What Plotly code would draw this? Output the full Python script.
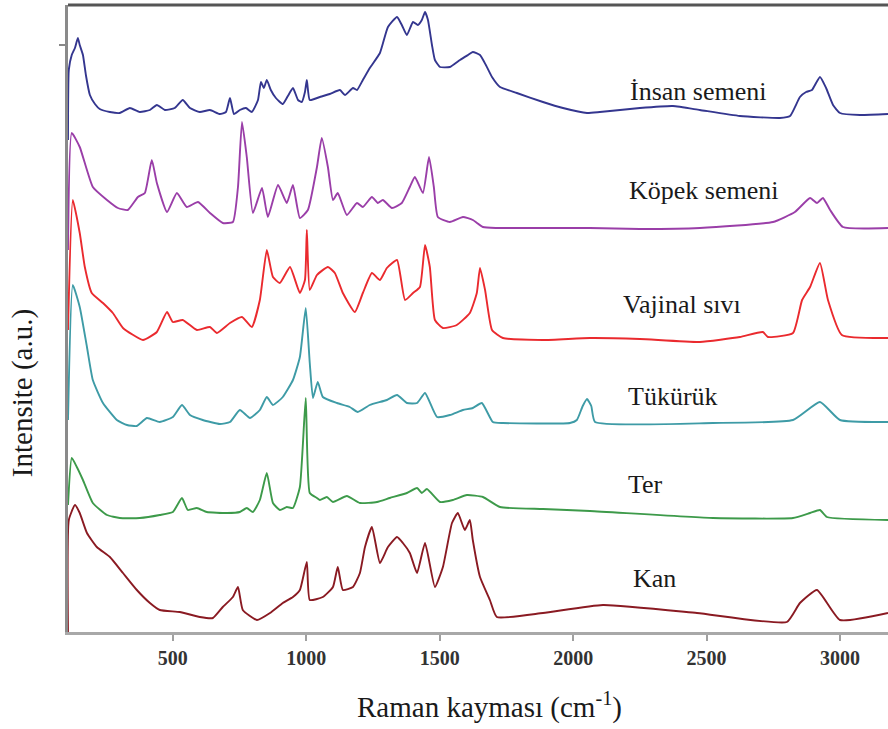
import plotly.graph_objects as go

# Raman shift (cm-1) and stacked intensity (a.u.) for each body fluid
insan_x = [107, 110, 121, 133, 144, 151, 163, 174, 189, 208, 226, 264, 301, 339, 376, 414, 440, 470, 507, 537,
           564, 601, 639, 676, 699, 714, 729, 751, 774, 796, 819, 830, 841, 852, 867, 886, 912, 931, 950, 969,
           983, 995, 1002, 1013, 1051, 1088, 1126, 1145, 1175, 1190, 1212, 1238, 1276, 1306, 1340, 1358, 1377,
           1400, 1418, 1433, 1445, 1456, 1471, 1482, 1501, 1538, 1576, 1606, 1624, 1651, 1673, 1696, 1726, 1789,
           1887, 1962, 2052, 2100, 2250, 2374, 2475, 2625, 2775, 2813, 2850, 2873, 2895, 2925, 2948, 2974, 3000,
           3075, 3180]
insan_y = [492, 562, 577, 584, 594, 587, 577, 557, 537, 528, 523, 520, 519, 524, 520, 522, 527, 522, 524, 532,
           524, 520, 522, 518, 520, 534, 518, 522, 524, 520, 532, 550, 544, 552, 542, 534, 528, 536, 544, 532,
           530, 540, 552, 532, 535, 538, 542, 537, 544, 542, 552, 564, 579, 605, 615, 607, 597,
           610, 607, 612, 620, 612, 587, 572, 565, 565, 572, 577, 580, 577, 567, 555, 545, 539,
           530, 524, 519, 520, 524, 526, 522, 516, 514, 516, 535, 540, 542, 555, 544, 527, 519,
           517, 518]

kopek_x = [107, 121, 151, 200, 253, 294, 331, 369, 395, 421, 440, 478, 515, 552, 594, 639, 687, 725, 744, 759,
           777, 800, 834, 856, 894, 927, 950, 976, 1006, 1040, 1058, 1081, 1100, 1118, 1152, 1190, 1212, 1246,
           1268, 1287, 1321, 1358, 1388, 1407, 1437, 1460, 1478, 1493, 1538, 1587, 1624, 1662, 1714, 1887, 2063,
           2250, 2475, 2749, 2831, 2888, 2914, 2936, 2963, 3011, 3180]
kopek_y = [382, 499, 485, 445, 432, 424, 422, 435, 439, 472, 449, 420, 439, 425, 430, 419, 409, 410, 445, 510,
           475, 419, 444, 415, 447, 429, 447, 414, 422, 465, 494, 465, 432, 439, 417, 429, 425, 435,
           429, 432, 424, 429, 445, 455, 439, 475, 445, 415, 410, 415, 412, 405, 404, 404, 404,
           403, 404, 410, 420, 434, 429, 434, 422, 405, 404]

vajinal_x = [107, 125, 151, 170, 196, 238, 275, 313, 388, 440, 478, 500, 537, 590, 639, 665, 714, 759, 796, 826,
             852, 875, 901, 939, 976, 995, 1002, 1013, 1040, 1081, 1107, 1137, 1182, 1212, 1246, 1276, 1302,
             1340, 1370, 1400, 1426, 1445, 1463, 1482, 1512, 1564, 1613, 1639, 1651, 1670, 1696, 1737, 1887,
             2063, 2250, 2475, 2625, 2711, 2730, 2824, 2858, 2888, 2925, 2955, 3007, 3180]
vajinal_y = [302, 432, 399, 365, 339, 329, 319, 304, 292, 300, 320, 310, 312, 302, 305, 299, 309, 315, 305, 332,
             382, 355, 349, 365, 339, 352, 402, 342, 357, 365, 359, 339, 320, 339, 359, 352, 364,
             372, 332, 339, 345, 387, 365, 312, 304, 307, 319, 339, 364, 342, 302, 294, 292,
             294, 293, 290, 295, 300, 295, 299, 332, 345, 369, 332, 297, 294]

tukuruk_x = [107, 125, 151, 178, 200, 238, 290, 328, 365, 403, 451, 500, 534, 564, 612, 676, 714, 751, 789, 826,
             852, 875, 912, 950, 976, 998, 1013, 1025, 1043, 1062, 1115, 1163, 1193, 1238, 1302, 1340, 1377,
             1415, 1445, 1490, 1538, 1587, 1624, 1658, 1699, 1737, 1988, 2014, 2036, 2052, 2068, 2082, 2524,
             2824, 2925, 3000, 3180]
tukuruk_y = [212, 347, 325, 285, 252, 229, 212, 207, 206, 214, 210, 215, 227, 217, 212, 208, 210, 222, 214, 222,
             235, 227, 235, 252, 275, 324, 269, 234, 250, 235, 229, 225, 220, 227, 232, 237, 229,
             229, 239, 215, 217, 222, 224, 229, 210, 209, 209, 212, 226, 233, 226, 210, 209,
             212, 230, 212, 210]

ter_x = [107, 121, 140, 163, 200, 253, 301, 376, 451, 500, 534, 556, 590, 627, 702, 751, 777, 800, 826, 852,
         875, 901, 927, 950, 976, 998, 1013, 1040, 1051, 1077, 1100, 1152, 1201, 1265, 1313, 1377, 1415, 1433,
         1452, 1501, 1549, 1602, 1662, 1726, 1887, 2063, 2524, 2824, 2888, 2925, 2951, 3180]
ter_y = [127, 174, 165, 152, 129, 117, 114, 114, 117, 120, 134, 122, 124, 120, 119, 120, 124, 120, 132, 159,
         129, 122, 125, 124, 145, 234, 139, 134, 132, 135, 130, 136, 129, 130, 134, 139, 144, 139,
         143, 130, 132, 137, 135, 125, 123, 121, 114, 114, 119, 122, 115, 112]

kan_x = [107, 110, 133, 151, 178, 215, 264, 313, 365, 414, 451, 526, 601, 650, 687, 725, 744, 762, 815, 864,
         912, 950, 976, 1002, 1013, 1062, 1100, 1118, 1137, 1175, 1201, 1220, 1246, 1276, 1306, 1340, 1362,
         1388, 1415, 1445, 1482, 1512, 1546, 1568, 1594, 1613, 1624, 1651, 1688, 1714, 1887, 2112, 2464, 2801,
         2850, 2914, 3000, 3180]
kan_y = [0, 112, 127, 119, 99, 85, 75, 59, 42, 29, 22, 20, 15, 14, 25, 35, 45, 22, 12, 19,
         29, 35, 42, 70, 32, 35, 45, 65, 42, 45, 59, 85, 105, 69, 85, 95, 89,
         79, 59, 89, 45, 65, 109, 119, 102, 112, 92, 55, 32, 15, 19, 27, 19, 10,
         29, 42, 12, 19]

series = [
    ("İnsan semeni", insan_x, insan_y, "#34368f"),
    ("Köpek semeni", kopek_x, kopek_y, "#9a3ea8"),
    ("Vajinal sıvı", vajinal_x, vajinal_y, "#ea2a2e"),
    ("Tükürük", tukuruk_x, tukuruk_y, "#3e9ba6"),
    ("Ter", ter_x, ter_y, "#3d9a4a"),
    ("Kan", kan_x, kan_y, "#8a1a22"),
]

# label anchor points (left edge, vertical middle) in data units
label_x = [2205, 2200, 2180, 2198, 2198, 2216]
label_y = [541, 442, 328, 236, 148, 54]

x_ticks = [500, 1000, 1500, 2000, 2500, 3000]
serif = "Liberation Serif, Times New Roman, serif"

fig = go.Figure()
for name, xs, ys, color in series:
    fig.add_trace(go.Scatter(x=xs, y=ys, mode="lines", name=name,
                             line=dict(color=color, width=1.9, shape="spline", smoothing=0.45),
                             showlegend=False))

for (name, _, _, _), lx, ly in zip(series, label_x, label_y):
    fig.add_annotation(x=lx, y=ly, xref="x", yref="y", text=name, showarrow=False,
                       xanchor="left", yanchor="middle",
                       font=dict(family=serif, size=26, color="#1a1a1a"))

fig.add_annotation(x=0.5146, y=-0.118, xref="paper", yref="paper",
                   text="Raman kayması (cm<sup>-1</sup>)", showarrow=False,
                   xanchor="center", yanchor="middle",
                   font=dict(family=serif, size=29, color="#1a1a1a"))
fig.add_annotation(x=-0.056, y=0.381, xref="paper", yref="paper",
                   text="Intensite (a.u.)", showarrow=False, textangle=-90,
                   xanchor="center", yanchor="middle",
                   font=dict(family=serif, size=29, color="#1a1a1a"))

# dark top border of the frame
fig.add_shape(type="line", xref="paper", yref="paper", x0=0, x1=1, y0=1, y1=1,
              line=dict(color="#555555", width=3))

fig.update_layout(
    width=888, height=729,
    margin=dict(l=68, r=0, t=5, b=97),
    paper_bgcolor="white", plot_bgcolor="white",
    xaxis=dict(range=[107, 3180], tickvals=x_ticks, ticktext=[str(t) for t in x_ticks],
               ticks="outside", ticklen=6, tickwidth=1.5, tickcolor="#a0a0a0",
               showline=True, linecolor="#a8a8a8", linewidth=3,
               showgrid=False, zeroline=False,
               tickfont=dict(family=serif, size=20, color="#333333", weight="bold")),
    yaxis=dict(range=[0, 627], tickvals=[587], showticklabels=False,
               ticks="outside", ticklen=6, tickwidth=1.5, tickcolor="#888888",
               showline=True, linecolor="#8a8a8a", linewidth=3,
               showgrid=False, zeroline=False),
)

fig.write_html("out.html")
